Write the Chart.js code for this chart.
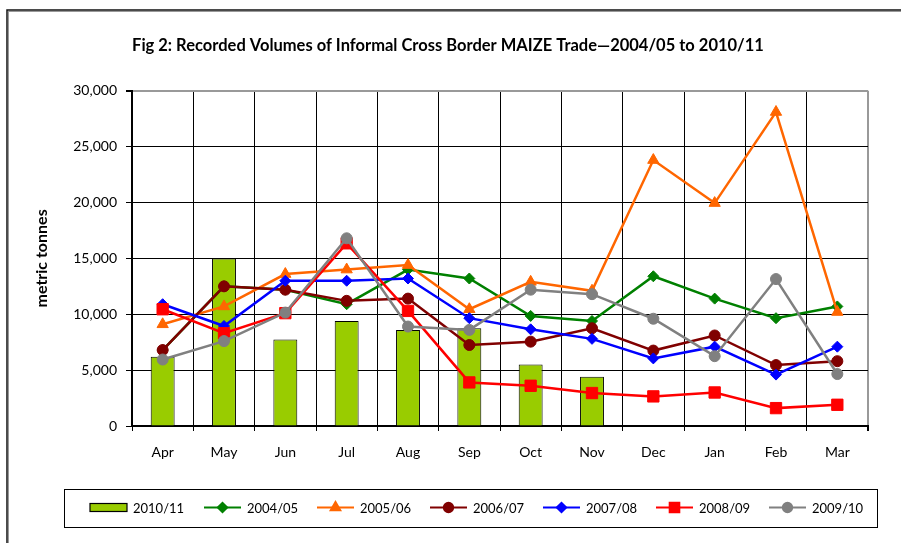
<!DOCTYPE html>
<html>
<head>
<meta charset="utf-8">
<script src="https://cdn.jsdelivr.net/npm/chart.js@4.4.1/dist/chart.umd.min.js"></script>
<style>
    html, body { margin: 0; padding: 0; background: #fff; }
    #wrap { width: 901px; height: 543px; }
</style>
</head>
<body>
<div id="wrap"><canvas id="myChart" width="901" height="543"></canvas></div>
<script>
const months = ['Apr', 'May', 'Jun', 'Jul', 'Aug', 'Sep', 'Oct', 'Nov', 'Dec', 'Jan', 'Feb', 'Mar'];
const yTicks = [0, 5000, 10000, 15000, 20000, 25000, 30000];

const vol2010 = [6200, 15000, 7750, 9400, 8600, 8750, 5500, 4400, null, null, null, null];
const vol2004 = [6800, 12500, 12200, 10900, 14000, 13200, 9850, 9400, 13400, 11400, 9650, 10700];
const vol2005 = [9100, 10700, 13600, 14000, 14400, 10450, 12900, 12100, 23800, 19950, 28100, 10200];
const vol2006 = [6800, 12500, 12200, 11200, 11400, 7250, 7550, 8750, 6750, 8100, 5450, 5800];
const vol2007 = [10900, 8950, 13000, 13000, 13200, 9650, 8650, 7800, 6050, 7100, 4600, 7100];
const vol2008 = [10450, 8300, 10100, 16350, 10300, 3900, 3600, 2950, 2650, 3000, 1600, 1900];
const vol2009 = [5950, 7600, 10150, 16800, 8900, 8600, 12200, 11800, 9600, 6250, 13150, 4650];

const FONT = 'Lato, "DejaVu Sans", sans-serif';

function lineSet(label, data, color, style, radius, order) {
    return {
        type: 'line',
        label: label,
        data: data,
        borderColor: color,
        backgroundColor: color,
        borderWidth: 2.5,
        pointStyle: style,
        pointRadius: radius,
        pointBorderWidth: 1,
        fill: false,
        tension: 0,
        order: order
    };
}

// frame around the whole picture
const framePlugin = {
    id: 'frame',
    beforeDraw(chart) {
        const ctx = chart.ctx;
        ctx.save();
        ctx.fillStyle = '#fff';
        ctx.fillRect(0, 0, chart.width, chart.height);
        ctx.strokeStyle = '#999';
        ctx.lineWidth = 1;
        ctx.strokeRect(8.5, 11.5, 1000, 1000);
        ctx.strokeStyle = '#111';
        ctx.lineWidth = 1.5;
        ctx.strokeRect(7, 10, 1000, 1000);
        ctx.restore();
    }
};

// boxed legend with line + marker samples
const legendPlugin = {
    id: 'boxLegend',
    afterDraw(chart) {
        const ctx = chart.ctx;
        ctx.save();
        ctx.strokeStyle = '#000';
        ctx.lineWidth = 1;
        ctx.strokeRect(64.5, 489.5, 813, 38);
        const cy = 507.5;
        ctx.font = '13px ' + FONT;
        ctx.textBaseline = 'middle';
        chart.data.datasets.forEach((ds, i) => {
            const tx = i === 0 ? 133 : 247 + (i - 1) * 113;
            const x = tx - 43;
            if (ds.type === 'line') {
                ctx.strokeStyle = ds.borderColor;
                ctx.lineWidth = 2;
                ctx.beginPath();
                ctx.moveTo(x, cy);
                ctx.lineTo(x + 37, cy);
                ctx.stroke();
                ctx.fillStyle = ds.backgroundColor;
                Chart.helpers.drawPoint(ctx, {
                    pointStyle: ds.pointStyle,
                    radius: ds.pointRadius * 0.85,
                    borderWidth: 1,
                    rotation: 0
                }, x + 18.5, cy);
            } else {
                ctx.fillStyle = ds.backgroundColor;
                ctx.fillRect(x, cy - 4, 37, 8);
                ctx.strokeStyle = '#000';
                ctx.lineWidth = 1.2;
                ctx.strokeRect(x, cy - 4, 37, 8);
            }
            ctx.fillStyle = '#000';
            ctx.fillText(ds.label, tx, cy + 1);
        });
        ctx.restore();
    }
};

const chartData = {
    labels: months,
    datasets: [
        {
            type: 'bar',
            label: '2010/11',
            data: vol2010,
            backgroundColor: '#99CC00',
            borderColor: '#000',
            borderWidth: 1,
            barPercentage: 0.39,
            categoryPercentage: 1,
            order: 10
        },
        lineSet('2004/05', vol2004, '#008000', 'rectRot', 5.5, 6),
        lineSet('2005/06', vol2005, '#FF6600', 'triangle', 6.5, 5),
        lineSet('2006/07', vol2006, '#800000', 'circle', 5.5, 4),
        lineSet('2007/08', vol2007, '#0000FF', 'rectRot', 5.5, 3),
        lineSet('2008/09', vol2008, '#FF0000', 'rect', 8, 2),
        lineSet('2009/10', vol2009, '#808080', 'circle', 5.5, 1)
    ]
};

const options = {
    responsive: false,
    animation: false,
    layout: {
        padding: { top: 0, left: 28, right: 33, bottom: 67 }
    },
    plugins: {
        legend: { display: false },
        tooltip: { enabled: false },
        title: {
            display: true,
            text: 'Fig 2: Recorded Volumes of Informal Cross Border MAIZE Trade\u20142004/05 to 2010/11',
            color: '#000',
            font: { family: FONT, size: 16.5, weight: 'bold' },
            padding: { top: 36, bottom: 35 }
        }
    },
    scales: {
        x: {
            offset: true,
            afterFit(scale) { scale.height = 50; },
            grid: {
                offset: true,
                color: (c) => c.tick === undefined ? '#999' : '#000',
                lineWidth: (c) => c.tick === undefined ? 2 : 1,
                tickColor: '#000',
                tickLength: 5
            },
            border: { color: '#000', width: 2 },
            ticks: {
                color: '#000',
                padding: 13,
                maxRotation: 0,
                font: { family: FONT, size: 14 }
            }
        },
        y: {
            min: 0,
            max: 30000,
            afterFit(scale) { scale.width = 104; },
            afterBuildTicks(scale) { scale.ticks = yTicks.map(v => ({ value: v })); },
            title: {
                display: true,
                text: 'metric tonnes',
                color: '#000',
                font: { family: FONT, size: 16, weight: 'bold' },
                padding: { top: 4, bottom: 0 }
            },
            grid: {
                color: (c) => c.tick && c.tick.value === 30000 ? '#999' : '#000',
                lineWidth: (c) => c.tick && c.tick.value === 30000 ? 2 : 1,
                tickColor: '#000',
                tickLength: 6
            },
            border: { color: '#000', width: 2 },
            ticks: {
                color: '#000',
                padding: 9,
                font: { family: FONT, size: 14 },
                callback: (v) => v.toLocaleString('en-US')
            }
        }
    }
};

const ctx = document.getElementById('myChart').getContext('2d');
const myChart = new Chart(ctx, {
    type: 'bar',
    data: chartData,
    options: options,
    plugins: [framePlugin, legendPlugin]
});
</script>
</body>
</html>
